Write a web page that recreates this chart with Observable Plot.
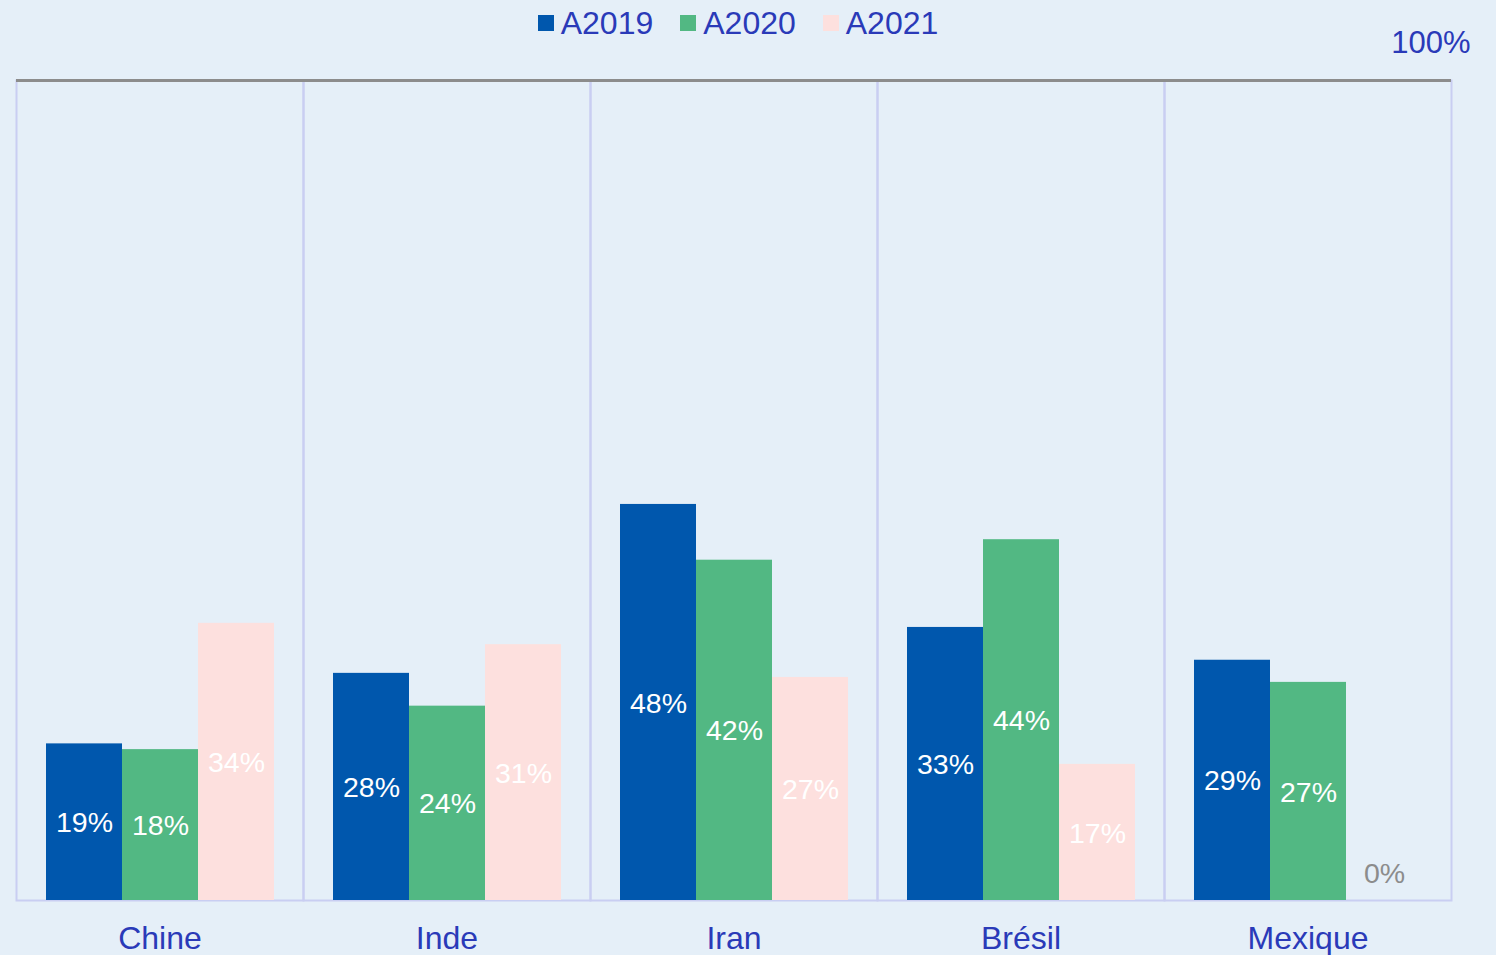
<!DOCTYPE html>
<html>
<head>
<meta charset="utf-8">
<script src="https://cdn.jsdelivr.net/npm/d3@7"></script>
<script src="https://cdn.jsdelivr.net/npm/@observablehq/plot@0.6"></script>
<style>
  html, body { margin: 0; padding: 0; background: #E5EFF8; }
  body { width: 1496px; height: 955px; overflow: hidden; position: relative; font-family: "Liberation Sans", Arial, sans-serif; }
  #legend { position: absolute; top: 0; left: 0; width: 1496px; height: 46px; display: flex; justify-content: center; align-items: center; gap: 27px; font-size: 32px; color: #2A3AB8; box-sizing: border-box; padding-right: 20px; }
  #legend .item { display: flex; align-items: center; gap: 7px; }
  #legend .sw { width: 16px; height: 16px; display: inline-block; }
</style>
</head>
<body>
<div id="chart"></div>
<div id="legend"></div>
<script>
const countries = ["Chine", "Inde", "Iran", "Brésil", "Mexique"];
const years = ["A2019", "A2020", "A2021"];
const A2019 = [19.1, 27.7, 48.3, 33.3, 29.3];
const A2020 = [18.4, 23.7, 41.5, 44.0, 26.6];
const A2021 = [33.8, 31.2, 27.2, 16.6, 0];
const yTicks = [100];
const colors = ["#0057AD", "#52B883", "#FDE0DE"];

const series = [A2019, A2020, A2021];
const data = [];
countries.forEach((c, i) => years.forEach((y, j) => data.push({country: c, year: y, value: series[j][i]})));

const textColor = "#2A3AB8";

const legend = document.getElementById("legend");
years.forEach((y, j) => {
  const it = document.createElement("div");
  it.className = "item";
  it.innerHTML = `<span class="sw" style="background:${colors[j]}"></span><span>${y}</span>`;
  legend.appendChild(it);
});

const fmt = d => Math.round(d.value) + "%";

const chart = Plot.plot({
  width: 1496,
  height: 955,
  marginTop: 80,
  marginBottom: 55,
  marginLeft: 16,
  marginRight: 45,
  style: {background: "transparent", fontFamily: "'Liberation Sans', Arial, sans-serif", overflow: "visible"},
  fx: {domain: countries, padding: 0, label: null},
  x: {domain: years, axis: null, paddingInner: 0, paddingOuter: 0.38},
  y: {domain: [0, 100], axis: null},
  color: {domain: years, range: colors},
  marks: [
    Plot.frame({stroke: "#C9CEF2", strokeWidth: 2}),
    Plot.barY(data, {fx: "country", x: "year", y: "value", fill: "year"}),
    Plot.ruleY(yTicks, {stroke: "#8C8C8C", strokeWidth: 3}),
    Plot.text(data.filter(d => d.value > 0), {fx: "country", x: "year", y: d => d.value / 2, text: fmt, fill: "white", fontSize: 28.5, dy: 1}),
    Plot.text(data.filter(d => d.value === 0), {fx: "country", x: "year", y: "value", text: fmt, fill: "#8C8C8C", fontSize: 28.5, dy: -27}),
    Plot.text(yTicks, {fx: () => countries[countries.length - 1], y: d => d, frameAnchor: "right", text: d => d + "%", textAnchor: "end", dx: 19, dy: -37, fontSize: 31, fill: textColor}),
    Plot.axisFx({anchor: "bottom", tickSize: 0, tickPadding: 26, fontSize: 32, fill: textColor, label: null})
  ]
});
document.getElementById("chart").appendChild(chart);
</script>
</body>
</html>
